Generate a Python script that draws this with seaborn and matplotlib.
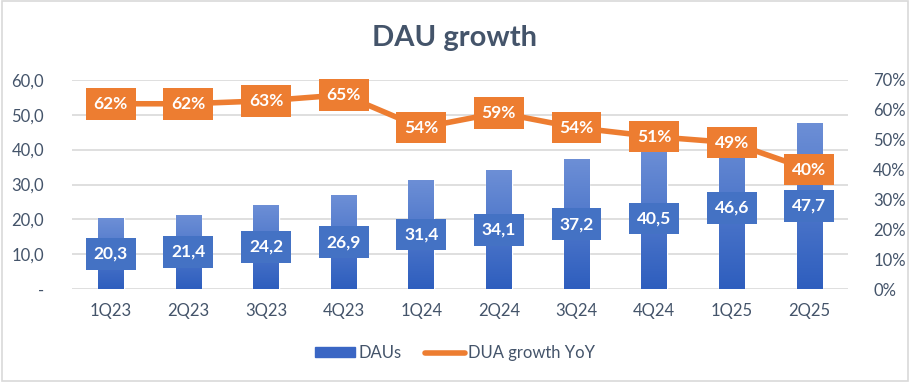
import numpy as np
import pandas as pd
import matplotlib
matplotlib.use("Agg")
import matplotlib.pyplot as plt
import seaborn as sns
from matplotlib.patches import Rectangle
from matplotlib.lines import Line2D
from matplotlib.colors import LinearSegmentedColormap

# ---------- Data ----------
quarters = ["1Q23", "2Q23", "3Q23", "4Q23", "1Q24", "2Q24", "3Q24", "4Q24", "1Q25", "2Q25"]
daus = [20.3, 21.4, 24.2, 26.9, 31.4, 34.1, 37.2, 40.5, 46.6, 47.7]
growth_yoy = [62, 62, 63, 65, 54, 59, 54, 51, 49, 40]

df = pd.DataFrame({"Quarter": quarters, "DAUs": daus, "Growth": growth_yoy})

sns.set_theme(style="white")
plt.rcParams["font.family"] = ["Lato", "DejaVu Sans"]

text_col = "#44546A"
blue = "#4472C4"
orange = "#ED7D31"

fig = plt.figure(figsize=(9.1, 3.82), dpi=100)
ax = fig.add_axes([0.079, 0.243, 0.853, 0.548])

# ---------- Bars ----------
sns.barplot(data=df, x="Quarter", y="DAUs", color=blue, width=0.33, ax=ax, zorder=2)

grad = LinearSegmentedColormap.from_list("g", ["#2E5EBE", "#6D8FD6"])
img = np.linspace(0, 1, 256).reshape(-1, 1)
for p in ax.patches:
    x0, w, h = p.get_x(), p.get_width(), p.get_height()
    im = ax.imshow(img, cmap=grad, aspect="auto", origin="lower",
                   extent=[x0, x0 + w, 0, h], zorder=2)
    im.set_clip_path(p)
    ax.text(x0 + w / 2, h / 2, f"{h:.1f}".replace(".", ","), ha="center", va="center",
            color="white", fontsize=12.5, fontweight="bold", zorder=5,
            bbox=dict(boxstyle="square,pad=0.45", fc=blue, ec="none"))

ax.set_ylim(0, 60)
ax.set_xlim(-0.5, len(quarters) - 0.5)
ax.set_yticks(np.arange(0, 61, 10))
ax.set_yticklabels(["-"] + [f"{v},0" for v in range(10, 61, 10)])
ax.yaxis.grid(True, color="#D9D9D9", lw=1.2, zorder=0)
ax.set_axisbelow(True)
ax.set_xlabel("")
ax.set_ylabel("")
ax.tick_params(axis="both", colors=text_col, labelsize=12, length=0)
ax.tick_params(axis="x", pad=10)
ax.tick_params(axis="y", pad=20)
for s in ax.spines.values():
    s.set_visible(False)

# ---------- Line ----------
ax2 = ax.twinx()
sns.lineplot(x=np.arange(len(quarters)), y=df["Growth"], color=orange, lw=4, ax=ax2, zorder=3)
for i, g in enumerate(growth_yoy):
    ax2.text(i, g, f"{g}%", ha="center", va="center", color="white", fontsize=12.5,
             fontweight="bold", zorder=6,
             bbox=dict(boxstyle="square,pad=0.45", fc=orange, ec="none"))
ax2.set_ylim(0, 70)
ax2.set_yticks(np.arange(0, 71, 10))
ax2.set_yticklabels([f"{v}%" for v in range(0, 71, 10)])
ax2.set_ylabel("")
ax2.tick_params(axis="y", colors=text_col, labelsize=12, length=0, pad=18)
for s in ax2.spines.values():
    s.set_visible(False)

# ---------- Title & legend ----------
fig.text(0.5, 0.9, "DAU growth", ha="center", va="center", fontsize=21,
         fontweight="bold", color=text_col)

handles = [Rectangle((0, 0), 1, 1, color="#3A66C4"),
           Line2D([0], [0], color=orange, lw=4)]
fig.legend(handles, ["DAUs", "DUA growth YoY"], loc="center", bbox_to_anchor=(0.5, 0.075),
           ncol=2, frameon=False, fontsize=12, labelcolor=text_col,
           handlelength=2.4, handleheight=0.55, columnspacing=1.4, handletextpad=0.2)

fig.patches.append(Rectangle((0.002, 0.003), 0.996, 0.994, transform=fig.transFigure,
                             fill=False, ec="#D9D9D9", lw=1.2))

fig.savefig("out.png", dpi=100)
